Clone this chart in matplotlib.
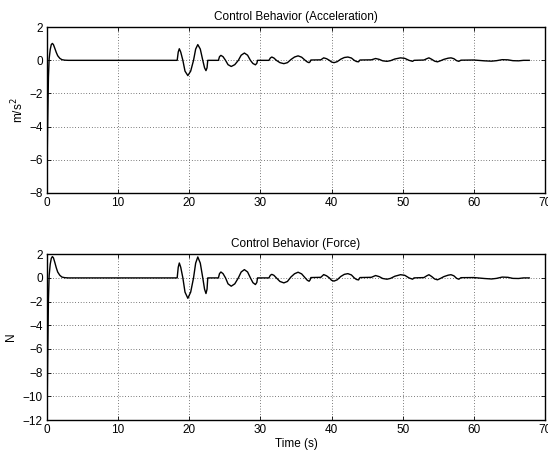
#!/usr/bin/env python3
"""Control behavior (acceleration and force) vs time, MATLAB-style subplots."""

import matplotlib
matplotlib.use("Agg")
import matplotlib.pyplot as plt

plt.rcParams.update(
    {
        "font.family": ["Liberation Sans", "DejaVu Sans"],
        "font.size": 8.5,
        "axes.linewidth": 1.0,
        "xtick.direction": "in",
        "ytick.direction": "in",
        "xtick.top": True,
        "ytick.right": True,
        "xtick.major.size": 3,
        "ytick.major.size": 3,
        "xtick.major.width": 0.6,
        "ytick.major.width": 0.6,
        "figure.facecolor": "white",
    }
)

# Acceleration (m/s^2)
ACC_T = [
    0.0, 0.1, 0.2, 0.3, 0.45, 0.6, 0.75, 0.9, 1.1, 1.3, 1.5, 1.8, 2.1, 2.5, 3.0,
    18.3, 18.45, 18.6, 18.8, 19.1, 19.4, 19.8, 20.2, 20.6, 20.9, 21.2, 21.55,
    21.9, 22.15, 22.35, 22.5, 22.6, 24.1,
    24.25, 24.45, 24.75, 25.1, 25.45, 25.9, 26.4, 26.9, 27.3, 27.75, 28.2,
    28.6, 28.95, 29.3, 29.5, 29.6, 31.2,
    31.4, 31.6, 31.9, 32.25, 32.75, 33.3, 33.8, 34.3, 34.8, 35.3, 35.8, 36.3,
    36.6, 36.85, 37.0, 37.1, 38.5,
    38.9, 39.3, 39.7, 40.0, 40.35, 40.8, 41.3, 41.8, 42.3, 42.8, 43.2, 43.5,
    43.8, 44.0, 45.6,
    46.2, 46.7, 47.2, 47.8, 48.3, 48.9, 49.7, 50.3, 50.9, 51.4, 51.6, 53.0,
    53.4, 53.7, 54.1, 54.5, 54.9, 55.3, 55.8, 56.4, 56.8, 57.2, 57.6, 57.9,
    58.2, 60.0, 61.5, 62.5, 63.2, 64.0, 64.8, 65.5, 66.3, 67.0, 67.8,
]
ACC_V = [
    -6.6, -3.5, -1.0, 0.1, 0.65, 0.95, 1.02, 0.95, 0.72, 0.48, 0.28, 0.12, 0.04, 0.01, 0.0,
    0.0, 0.5, 0.7, 0.5, 0.0, -0.65, -0.92, -0.65, 0.0, 0.68, 0.95, 0.68,
    0.0, -0.45, -0.62, -0.45, 0.0, 0.0,
    0.22, 0.3, 0.22, 0.0, -0.26, -0.37, -0.26, 0.0, 0.31, 0.44, 0.31,
    0.0, -0.19, -0.27, -0.18, 0.0, 0.0,
    0.14, 0.2, 0.14, 0.0, -0.14, -0.2, -0.14, 0.05, 0.2, 0.27, 0.19, 0.0,
    -0.1, -0.14, -0.08, 0.02, 0.03,
    0.15, 0.1, 0.0, -0.1, -0.14, -0.08, 0.07, 0.17, 0.2, 0.14, 0.0, -0.07,
    -0.09, 0.02, 0.03,
    0.11, 0.06, -0.03, -0.06, -0.02, 0.08, 0.15, 0.12, 0.0, -0.06, 0.0, 0.02,
    0.1, 0.15, 0.06, -0.05, -0.09, -0.03, 0.06, 0.13, 0.15, 0.1, -0.02, -0.06,
    0.01, 0.02, -0.03, -0.05, -0.02, 0.04, 0.03, -0.02, -0.03, 0.0, 0.0,
]

FORCE_V = [
    -11.8, -6.3, -1.8, 0.2, 1.15, 1.65, 1.8, 1.7, 1.3, 0.86, 0.5, 0.22, 0.07, 0.02, 0.0,
    0.0, 0.9, 1.26, 0.9, 0.0, -1.2, -1.72, -1.2, 0.0, 1.25, 1.77, 1.25,
    0.0, -0.95, -1.32, -0.95, 0.0, 0.0,
    0.36, 0.5, 0.36, 0.0, -0.5, -0.7, -0.5, 0.0, 0.5, 0.7, 0.5,
    0.0, -0.4, -0.56, -0.38, 0.0, 0.0,
    0.22, 0.3, 0.22, 0.0, -0.3, -0.42, -0.3, 0.08, 0.35, 0.48, 0.34, 0.0,
    -0.2, -0.28, -0.16, 0.03, 0.05,
    0.28, 0.18, 0.0, -0.2, -0.27, -0.16, 0.12, 0.3, 0.36, 0.25, 0.0, -0.13,
    -0.17, 0.03, 0.05,
    0.2, 0.11, -0.05, -0.11, -0.04, 0.14, 0.27, 0.22, 0.0, -0.11, 0.0, 0.03,
    0.18, 0.27, 0.11, -0.09, -0.16, -0.05, 0.11, 0.23, 0.27, 0.18, -0.04, -0.11,
    0.02, 0.03, -0.05, -0.09, -0.04, 0.07, 0.05, -0.04, -0.05, 0.0, 0.0,
]

X_TICKS = [0, 10, 20, 30, 40, 50, 60, 70]
ACC_Y_TICKS = [-8, -6, -4, -2, 0, 2]
FORCE_Y_TICKS = [-12, -10, -8, -6, -4, -2, 0, 2]


def style_axes(ax, yticks):
    ax.set_xlim(0, 70)
    ax.set_ylim(yticks[0], yticks[-1])
    ax.set_xticks(X_TICKS)
    ax.set_yticks(yticks)
    ax.grid(True, color="black", linestyle=(0, (1, 3)), linewidth=0.5)
    ax.tick_params(axis="x", pad=3)
    ax.tick_params(axis="y", pad=3)


fig = plt.figure(figsize=(5.48, 4.53), dpi=100)

ax1 = fig.add_axes([0.0858, 0.574, 0.9085, 0.366])
ax1.plot(ACC_T, ACC_V, color="black", linewidth=1.0)
style_axes(ax1, ACC_Y_TICKS)
ax1.set_ylabel("m/s$^{2}$", labelpad=2)
ax1.set_title("Control Behavior (Acceleration)", fontsize=8.5, pad=5)

ax2 = fig.add_axes([0.0858, 0.0728, 0.9085, 0.366])
ax2.plot(ACC_T, FORCE_V, color="black", linewidth=1.0)
style_axes(ax2, FORCE_Y_TICKS)
ax2.set_ylabel("N", labelpad=4)
ax2.set_xlabel("Time (s)", labelpad=1)
ax2.set_title("Control Behavior (Force)", fontsize=8.5, pad=5)

fig.savefig("out.png", dpi=100)
